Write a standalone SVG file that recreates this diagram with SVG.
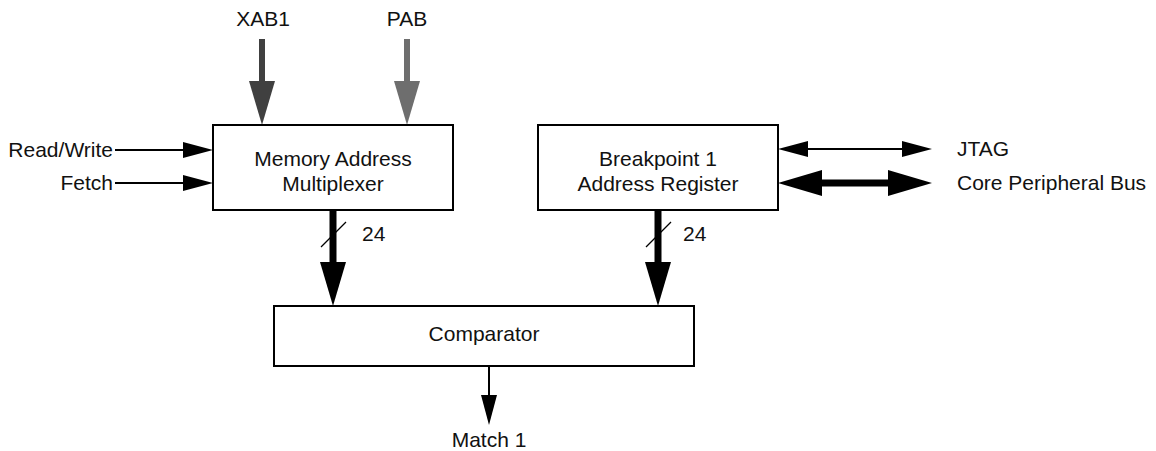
<svg xmlns="http://www.w3.org/2000/svg" width="1156" height="451" viewBox="0 0 1156 451">
<style>
text{font-family:"Liberation Sans",Arial,sans-serif;font-size:21px;fill:#111}
.box{fill:#fff;stroke:#000;stroke-width:2}
.thin{stroke:#000;stroke-width:2;fill:none}
.thick{stroke:#000;stroke-width:7;fill:none}
.slash{stroke:#000;stroke-width:1.2}
</style>
<defs>
<marker id="hS" markerUnits="userSpaceOnUse" markerWidth="30" markerHeight="16" refX="0" refY="8" orient="auto-start-reverse"><path d="M0,0L30,8L0,16z" fill="#000"/></marker>
<marker id="hL" markerUnits="userSpaceOnUse" markerWidth="44" markerHeight="26" refX="0" refY="13" orient="auto-start-reverse"><path d="M0,0L44,13L0,26z" fill="#000"/></marker>
<marker id="hX" markerUnits="userSpaceOnUse" markerWidth="44" markerHeight="26" refX="0" refY="13" orient="auto"><path d="M0,0L44,13L0,26z" fill="#404040"/></marker>
<marker id="hP" markerUnits="userSpaceOnUse" markerWidth="44" markerHeight="26" refX="0" refY="13" orient="auto"><path d="M0,0L44,13L0,26z" fill="#6e6e6e"/></marker>
</defs>
<rect width="1156" height="451" fill="#fff"/>
<g id="connectors">
<line x1="262" y1="39" x2="262" y2="81" stroke="#404040" stroke-width="6" marker-end="url(#hX)"/>
<line x1="407" y1="39" x2="407" y2="81" stroke="#6e6e6e" stroke-width="6" marker-end="url(#hP)"/>
<line class="thin" x1="115" y1="150" x2="183" y2="150" marker-end="url(#hS)"/>
<line class="thin" x1="115" y1="183" x2="183" y2="183" marker-end="url(#hS)"/>
<line class="thin" x1="808" y1="149" x2="902" y2="149" marker-start="url(#hS)" marker-end="url(#hS)"/>
<line class="thick" x1="822" y1="183" x2="888" y2="183" marker-start="url(#hL)" marker-end="url(#hL)"/>
<line class="thick" x1="333" y1="210" x2="333" y2="262" marker-end="url(#hL)"/>
<line class="thick" x1="658" y1="210" x2="658" y2="262" marker-end="url(#hL)"/>
<line class="slash" x1="321" y1="247" x2="346" y2="222"/>
<line class="slash" x1="646" y1="247" x2="671" y2="222"/>
<line class="thin" x1="489" y1="366" x2="489" y2="395" marker-end="url(#hS)"/>
<text x="362" y="241">24</text>
<text x="683" y="241">24</text>
</g>
<g id="xab1"><text x="263" y="26" text-anchor="middle">XAB1</text></g>
<g id="pab"><text x="407" y="26" text-anchor="middle">PAB</text></g>
<g id="readwrite"><text x="113" y="157" text-anchor="end">Read/Write</text></g>
<g id="fetch"><text x="113" y="190" text-anchor="end">Fetch</text></g>
<g id="mux">
<rect class="box" x="213" y="125" width="240" height="85"/>
<text x="333" y="166" text-anchor="middle">Memory Address</text>
<text x="333" y="191" text-anchor="middle">Multiplexer</text>
</g>
<g id="bp">
<rect class="box" x="538" y="125" width="240" height="85"/>
<text x="658" y="166" text-anchor="middle">Breakpoint 1</text>
<text x="658" y="191" text-anchor="middle">Address Register</text>
</g>
<g id="jtag"><text x="957" y="156">JTAG</text></g>
<g id="cpb"><text x="957" y="190">Core Peripheral Bus</text></g>
<g id="comparator">
<rect class="box" x="274" y="306" width="420" height="60"/>
<text x="484" y="341" text-anchor="middle">Comparator</text>
</g>
<g id="match"><text x="489" y="447" text-anchor="middle">Match 1</text></g>
</svg>
